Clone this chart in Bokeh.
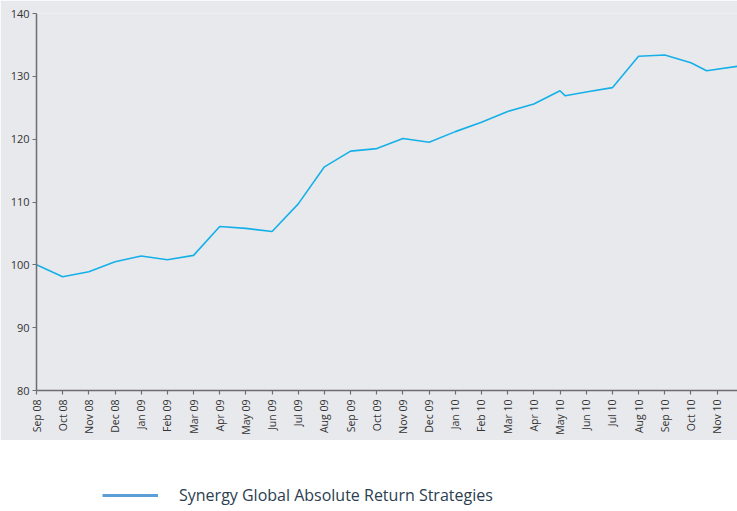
import math
from bokeh.plotting import figure
from bokeh.layouts import column
from bokeh.models import FixedTicker, Legend, LegendItem, ColumnDataSource
from bokeh.embed import file_html
from bokeh.resources import INLINE

# Month labels (index 0 = Sep 08)
month_labels = ["Sep 08", "Oct 08", "Nov 08", "Dec 08", "Jan 09", "Feb 09", "Mar 09",
                "Apr 09", "May 09", "Jun 09", "Jul 09", "Aug 09", "Sep 09", "Oct 09",
                "Nov 09", "Dec 09", "Jan 10", "Feb 10", "Mar 10", "Apr 10", "May 10",
                "Jun 10", "Jul 10", "Aug 10", "Sep 10", "Oct 10", "Nov 10", "Dec 10"]

# Series: position in months since Sep 08, and index value
series_month = [0, 1, 2, 3, 4, 5, 6, 7, 8, 9, 10, 11, 12, 13, 14, 15, 16, 17, 18, 19,
                20, 20.2, 21, 22, 23, 24, 25, 25.6, 26.78]
series_value = [100.0, 98.1, 98.9, 100.5, 101.4, 100.8, 101.5, 106.1, 105.8, 105.3,
                109.7, 115.6, 118.1, 118.5, 120.1, 119.5, 121.2, 122.7, 124.4, 125.6,
                127.7, 126.9, 127.5, 128.2, 133.2, 133.4, 132.15, 130.9, 131.6]
series_name = "Synergy Global Absolute Return Strategies"

y_ticks = [80, 90, 100, 110, 120, 130, 140]

BG = "#e8e9ed"
FONT = "Open Sans"

p = figure(width=737, height=440, output_backend="svg", toolbar_location=None,
           x_range=(0, 26.78), y_range=(80, 140),
           background_fill_color=BG, border_fill_color=BG,
           min_border_left=36, min_border_right=0, min_border_top=13, min_border_bottom=50)
p.outline_line_color = None
p.grid.visible = False

src = ColumnDataSource(dict(x=series_month, y=series_value))
p.line("x", "y", source=src, line_color="#16b0e8", line_width=1.6)

# axes
p.xaxis.ticker = FixedTicker(ticks=list(range(len(month_labels))))
p.xaxis.major_label_overrides = {i: lab for i, lab in enumerate(month_labels)}
p.xaxis.major_label_orientation = math.pi / 2
p.yaxis.ticker = FixedTicker(ticks=y_ticks)

for ax in (p.xaxis, p.yaxis):
    ax.axis_line_color = "#6e6e72"
    ax.axis_line_width = 1.5
    ax.major_tick_line_color = "#6e6e72"
    ax.major_tick_line_width = 1.2
    ax.major_tick_out = 4
    ax.major_tick_in = 0
    ax.minor_tick_line_color = None
    ax.major_label_text_font = FONT
    ax.major_label_text_color = "#333333"
p.xaxis.major_label_text_font_size = "10.5px"
p.yaxis.major_label_text_font_size = "11px"
p.xaxis.major_label_standoff = 5
p.yaxis.major_label_standoff = 3

# Legend strip below the chart
lg = figure(width=737, height=71, output_backend="svg", toolbar_location=None,
            x_range=(0, 737), y_range=(0, 71),
            background_fill_alpha=0, border_fill_alpha=0,
            min_border_left=36, min_border_right=0, min_border_top=0, min_border_bottom=0)
lg.outline_line_color = None
lg.axis.visible = False
lg.grid.visible = False
proxy = lg.line([0, 0], [0, 0], line_color="#5b9fd6", line_width=3, visible=False)
legend = Legend(items=[LegendItem(label=series_name, renderers=[proxy])],
                location=(66, 5), padding=0, margin=0, spacing=0,
                glyph_width=56, glyph_height=18, label_standoff=21,
                label_text_font=FONT, label_text_font_size="16px",
                label_text_color="#2c3e50", background_fill_alpha=0,
                border_line_color=None)
lg.add_layout(legend, "center")

layout = column(p, lg, spacing=0)
html = file_html(layout, INLINE)
html = html.replace("<body>", '<body style="background-color:%s">' % BG, 1)
open("out.html", "w").write(html)
